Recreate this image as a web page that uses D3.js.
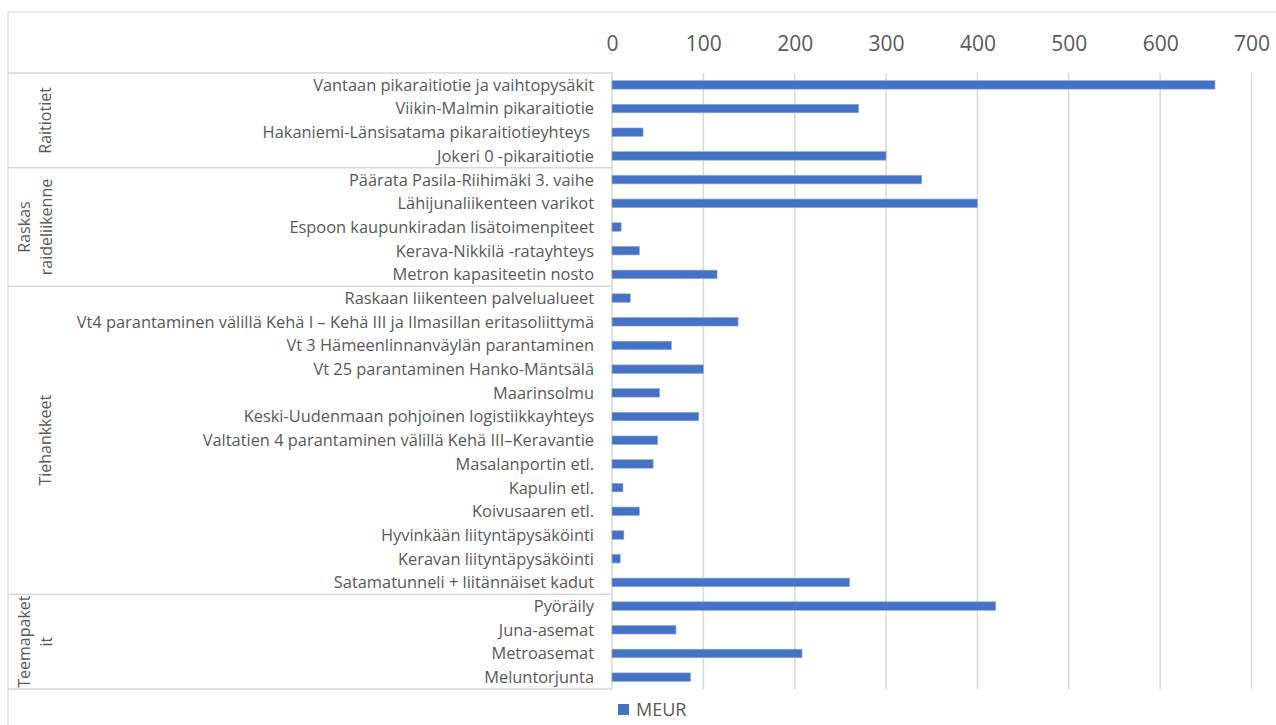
<!DOCTYPE html>
<html>
<head>
<meta charset="utf-8">
<script src="https://cdn.jsdelivr.net/npm/d3@7"></script>
<style>
  html, body { margin: 0; padding: 0; background: #fff; }
  svg { display: block; }
  text { font-family: "Open Sans", sans-serif; fill: #595959; }
</style>
</head>
<body>
<svg id="chart" width="1276" height="725"></svg>
<script>
const categories = [
  "Vantaan pikaraitiotie ja vaihtopysäkit",
  "Viikin-Malmin pikaraitiotie",
  "Hakaniemi-Länsisatama pikaraitiotieyhteys ",
  "Jokeri 0 -pikaraitiotie",
  "Päärata Pasila-Riihimäki 3. vaihe",
  "Lähijunaliikenteen varikot",
  "Espoon kaupunkiradan lisätoimenpiteet",
  "Kerava-Nikkilä -ratayhteys",
  "Metron kapasiteetin nosto",
  "Raskaan liikenteen palvelualueet",
  "Vt4 parantaminen välillä Kehä I – Kehä III ja Ilmasillan eritasoliittymä",
  "Vt 3 Hämeenlinnanväylän parantaminen",
  "Vt 25 parantaminen Hanko-Mäntsälä",
  "Maarinsolmu",
  "Keski-Uudenmaan pohjoinen logistiikkayhteys",
  "Valtatien 4 parantaminen välillä Kehä III–Keravantie",
  "Masalanportin etl.",
  "Kapulin etl.",
  "Koivusaaren etl.",
  "Hyvinkään liityntäpysäköinti",
  "Keravan liityntäpysäköinti",
  "Satamatunneli + liitännäiset kadut",
  "Pyöräily",
  "Juna-asemat",
  "Metroasemat",
  "Meluntorjunta"
];
const meur = [660, 270, 34, 300, 339, 400, 10, 30, 115, 20, 138, 65, 100, 52, 95, 50, 45, 12, 30, 13, 9, 260, 420, 70, 208, 86];
const groupNames = [["Raitiotiet"], ["Raskas", "raideliikenne"], ["Tiehankkeet"], ["Teemapaket", "it"]];
const groupSizes = [4, 5, 13, 4];
const xTicks = [0, 100, 200, 300, 400, 500, 600, 700];
const seriesName = "MEUR";

const svg = d3.select("#chart");
const W = 1276, H = 725;
const plotTop = 73, plotBottom = 689;
const x0 = 612, x700 = 1251.5;
const labelLeft = 8;

const x = d3.scaleLinear().domain([0, 700]).range([x0, x700]);
const y = d3.scaleBand().domain(categories).range([plotTop, plotBottom]).paddingInner(0.64).paddingOuter(0.32);

const grid = "#d9d9d9";

// chart outer border (top & left visible)
svg.append("line").attr("x1", labelLeft).attr("x2", W).attr("y1", 12).attr("y2", 12).attr("stroke", grid).attr("stroke-width", 1.2);
svg.append("line").attr("x1", labelLeft).attr("x2", labelLeft).attr("y1", 12).attr("y2", H).attr("stroke", grid).attr("stroke-width", 1.2);

// gridlines
svg.append("g")
  .selectAll("line.grid")
  .data(xTicks.filter(d => d > 0))
  .join("line")
  .attr("x1", d => x(d)).attr("x2", d => x(d))
  .attr("y1", plotTop).attr("y2", plotBottom)
  .attr("stroke", grid).attr("stroke-width", 1.5);

// top axis labels
const axis = d3.axisTop(x).tickValues(xTicks).tickSize(0).tickPadding(0);
const axG = svg.append("g").attr("transform", "translate(0,51)").call(axis);
axG.select(".domain").remove();
axG.selectAll("text").style("font-family", '"Open Sans", sans-serif').style("font-size", "21px").attr("fill", "#595959").attr("dy", 0);

// group boxes
const boundaries = [0];
groupSizes.reduce((acc, n) => { boundaries.push(acc + n); return acc + n; }, 0);
const bY = i => plotTop + i * (plotBottom - plotTop) / categories.length;
svg.append("g").selectAll("line")
  .data(boundaries)
  .join("line")
  .attr("x1", labelLeft).attr("x2", x0)
  .attr("y1", d => bY(d)).attr("y2", d => bY(d))
  .attr("stroke", grid).attr("stroke-width", 1.5);
svg.append("line").attr("x1", x0).attr("x2", x0).attr("y1", plotTop).attr("y2", plotBottom).attr("stroke", grid).attr("stroke-width", 1.5);

// group labels (line centres in screen x)
const lineCentres = { 1: [45], 2: [24, 46] };
groupNames.forEach((lines, gi) => {
  const yc = (bY(boundaries[gi]) + bY(boundaries[gi + 1])) / 2;
  const xs = lineCentres[lines.length];
  lines.forEach((ln, li) => {
    svg.append("text")
      .attr("transform", `translate(${xs[li]},${yc}) rotate(-90)`)
      .attr("text-anchor", "middle")
      .attr("dy", "0.36em")
      .style("font-size", "16px")
      .text(ln);
  });
});

// category labels
svg.append("g").selectAll("text")
  .data(categories)
  .join("text")
  .attr("x", 594)
  .attr("y", d => y(d) + y.bandwidth() / 2)
  .attr("dy", "0.36em")
  .attr("text-anchor", "end")
  .style("font-size", "16.4px")
  .style("white-space", "pre")
  .text(d => d);

// bars
svg.append("g").selectAll("rect")
  .data(categories)
  .join("rect")
  .attr("x", x(0))
  .attr("y", (d) => y(d))
  .attr("width", (d, i) => x(meur[i]) - x(0))
  .attr("height", y.bandwidth())
  .attr("fill", "#4472c4")
  .attr("stroke", "#8eaadb").attr("stroke-width", 0.6);

// legend
const lg = svg.append("g").attr("transform", "translate(618,704)");
lg.append("rect").attr("width", 11).attr("height", 11).attr("fill", "#4472c4");
lg.append("text").attr("x", 18).attr("y", 6).attr("dy", "0.36em").style("font-size", "18px").text(seriesName);
</script>
</body>
</html>
